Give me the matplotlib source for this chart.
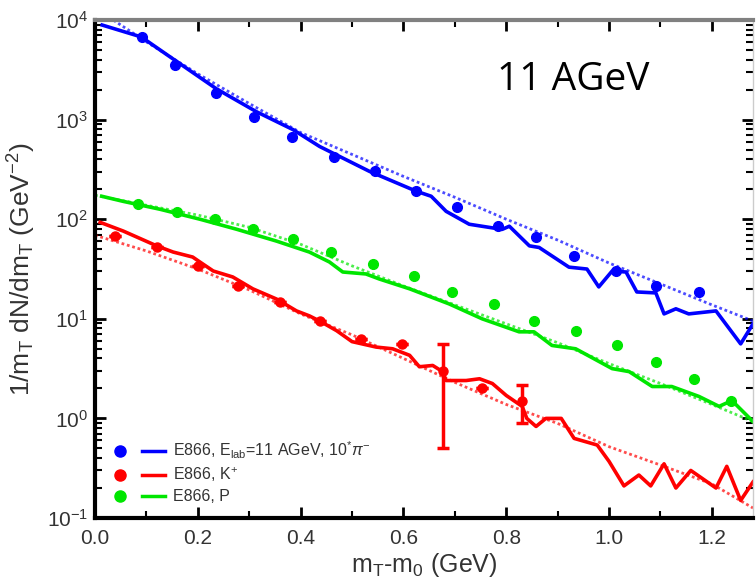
import matplotlib.pyplot as plt
from matplotlib.lines import Line2D
from matplotlib.legend_handler import HandlerTuple
from matplotlib.ticker import MultipleLocator, LogLocator, NullFormatter, FormatStrFormatter

plt.rcParams["font.family"] = ["Liberation Sans", "DejaVu Sans"]
plt.rcParams["mathtext.fontset"] = "custom"
plt.rcParams["mathtext.rm"] = "Liberation Sans"
plt.rcParams["mathtext.it"] = "Liberation Sans:italic"

# data (x in GeV, y in 1/mT dN/dmT GeV^-2)
# pi- (x10)
pi_x = [0.091, 0.155, 0.235, 0.309, 0.384, 0.464, 0.544, 0.625, 0.705, 0.784, 0.858, 0.932, 1.014, 1.091, 1.175]
pi_y = [6800, 3550, 1860, 1070, 676, 417, 302, 191, 132, 85, 66, 42.7, 30.2, 21.4, 18.6]
# K+
k_x = [0.039, 0.12, 0.20, 0.278, 0.36, 0.437, 0.518, 0.598, 0.676, 0.753, 0.831]
k_y = [68, 52, 34, 21.4, 14.8, 9.5, 6.3, 5.6, 3.0, 2.0, 1.5]
k_lo = [0, 0, 0, 0, 0, 0, 0, 0, 2.5, 0, 0.61]
k_hi = [0, 0, 0, 0, 0, 0, 0, 0, 2.6, 0, 0.64]
# protons
p_x = [0.084, 0.159, 0.233, 0.307, 0.385, 0.46, 0.54, 0.621, 0.695, 0.777, 0.854, 0.935, 1.015, 1.091, 1.165, 1.237]
p_y = [141, 117, 100, 79, 63, 47, 35.5, 27, 18.6, 14.1, 9.5, 7.6, 5.4, 3.7, 2.5, 1.48]

# model curves, solid
pi_line_x = [0.014, 0.09, 0.16, 0.236, 0.314, 0.385, 0.437, 0.534, 0.625, 0.654, 0.683, 0.728, 0.792, 0.806,
             0.845, 0.864, 0.922, 0.957, 0.98, 1.006, 1.033, 1.054, 1.091, 1.107, 1.130, 1.155, 1.208, 1.256, 1.28]
pi_line_y = [8900, 6760, 3800, 2040, 1200, 794, 537, 302, 191, 170, 120, 89, 79, 85,
             54, 52, 33, 31.6, 20.9, 30.2, 29.5, 18.6, 18.2, 11.2, 12.6, 11.2, 12.0, 5.6, 8.9]
p_line_x = [0.013, 0.055, 0.126, 0.204, 0.275, 0.353, 0.417, 0.456, 0.482, 0.527, 0.553, 0.612, 0.689, 0.753,
            0.825, 0.854, 0.889, 0.935, 1.006, 1.039, 1.084, 1.122, 1.175, 1.214, 1.239, 1.28]
p_line_y = [170, 151, 126, 100, 79.4, 60.3, 46.8, 37.2, 29.5, 28.2, 25.1, 20.0, 14.1, 10.0,
            7.4, 7.4, 5.4, 5.0, 3.16, 2.95, 2.09, 2.09, 1.66, 1.32, 1.51, 0.93]
k_line_x = [0.01, 0.055, 0.12, 0.152, 0.19, 0.204, 0.23, 0.268, 0.307, 0.353, 0.392, 0.417, 0.437, 0.47, 0.50,
            0.547, 0.579, 0.612, 0.631, 0.657, 0.676, 0.683, 0.722, 0.748, 0.773, 0.80, 0.831, 0.84, 0.858,
            0.877, 0.907, 0.932, 0.977, 1.0, 1.029, 1.058, 1.081, 1.107, 1.130, 1.159, 1.208, 1.229, 1.256, 1.28]
k_line_y = [93, 76, 54, 46.8, 41.7, 37.2, 30.2, 26.3, 20.0, 15.8, 12.0, 10.7, 9.5, 7.6, 5.9,
            5.2, 5.0, 4.3, 3.3, 3.4, 2.95, 2.4, 2.4, 2.5, 2.24, 1.7, 1.32, 1.0, 0.83,
            1.0, 1.0, 0.63, 0.54, 0.37, 0.21, 0.27, 0.21, 0.35, 0.20, 0.30, 0.20, 0.33, 0.15, 0.23]

# model curves, dotted
dot_x = [0.0, 0.1, 0.2, 0.3, 0.4, 0.5, 0.6, 0.7, 0.8, 0.9, 1.0, 1.1, 1.2, 1.28]
pi_dot_y = [13200, 6030, 2880, 1450, 741, 447, 269, 166, 100, 61.7, 36.3, 22.4, 13.8, 9.5]
p_dot_y = [174, 138, 110, 83, 56, 34, 21.4, 13.8, 8.9, 5.75, 3.55, 2.24, 1.38, 0.93]
k_dot_y = [69, 48, 31.6, 19.5, 11.2, 6.9, 4.0, 2.3, 1.38, 0.89, 0.52, 0.34, 0.22, 0.126]

blue = "#0000ff"
red = "#ff0000"
green = "#00e600"
txt = "#333333"

fig = plt.figure(figsize=(7.56, 5.81), dpi=100)
ax = fig.add_axes([95/756, 63/581, 658/756, 498/581])

dot = (0, (1, 1))
ax.plot(dot_x, pi_dot_y, color=blue, lw=2, ls=dot, alpha=0.7)
ax.plot(dot_x, p_dot_y, color=green, lw=2, ls=dot, alpha=0.7)
ax.plot(dot_x, k_dot_y, color=red, lw=2, ls=dot, alpha=0.7)

ax.plot(pi_line_x, pi_line_y, color=blue, lw=2.6)
ax.plot(p_line_x, p_line_y, color=green, lw=2.6)
ax.plot(k_line_x, k_line_y, color=red, lw=2.6)

ax.plot(pi_x, pi_y, "o", color=blue, ms=7)
ax.plot(p_x, p_y, "o", color=green, ms=7)
ax.errorbar(k_x, k_y, yerr=[k_lo, k_hi], fmt="o", color=red, ms=6.5,
            elinewidth=2.5, capsize=4, capthick=2.5)

ax.set_yscale("log")
ax.set_xlim(0, 1.28)
ax.set_ylim(0.1, 1e4)

ax.xaxis.set_major_locator(MultipleLocator(0.2))
ax.xaxis.set_minor_locator(MultipleLocator(0.1))
ax.xaxis.set_major_formatter(FormatStrFormatter("%.1f"))
ax.yaxis.set_major_locator(LogLocator(base=10, numticks=10))
ax.yaxis.set_minor_locator(LogLocator(base=10, subs=range(2, 10), numticks=20))
ax.yaxis.set_minor_formatter(NullFormatter())
ax.tick_params(which="both", direction="in", top=True, right=True, colors="black",
               labelcolor=txt, labelsize=15)
ax.tick_params(which="major", length=8, width=2)
ax.tick_params(which="minor", length=5, width=1.5)
ax.tick_params(axis="y", pad=5)
ax.tick_params(axis="x", pad=8)

for side in ["left", "bottom"]:
    ax.spines[side].set_linewidth(3)
    ax.spines[side].set_color("black")
ax.spines["top"].set_linewidth(3)
ax.spines["top"].set_color("#808080")
ax.spines["right"].set_linewidth(1)
ax.spines["right"].set_color("#cccccc")

ax.set_xlabel(r"m$_\mathrm{T}$-m$_0$ (GeV)", fontsize=18, color=txt, labelpad=2)
ax.set_ylabel(r"1/m$_\mathrm{T}$ dN/dm$_\mathrm{T}$ (GeV$^{-2}$)", fontsize=19, color=txt, labelpad=6)

ax.text(0.611, 0.859, "11 AGeV", transform=ax.transAxes, fontsize=28,
        family="Open Sans", ha="left", va="baseline", color="black")

handles = [
    (Line2D([], [], marker="o", ls="none", color=blue, ms=8), Line2D([], [], color=blue, lw=2.5)),
    (Line2D([], [], marker="o", ls="none", color=red, ms=8), Line2D([], [], color=red, lw=2.5)),
    (Line2D([], [], marker="o", ls="none", color=green, ms=8), Line2D([], [], color=green, lw=2.5)),
]
labels = [r"E866, E$_\mathrm{lab}$=11 AGeV, 10$^{*}\pi^{-}$", r"E866, K$^{+}$", "E866, P"]
leg = ax.legend(handles, labels, handler_map={tuple: HandlerTuple(ndivide=None, pad=0.6)},
                loc="lower left", bbox_to_anchor=(0.01, 0.015), frameon=False, fontsize=11.5,
                handlelength=3.6, handletextpad=0.5, labelspacing=0.3, borderaxespad=0)
for t in leg.get_texts():
    t.set_color(txt)

plt.savefig("out.png", dpi=100)
